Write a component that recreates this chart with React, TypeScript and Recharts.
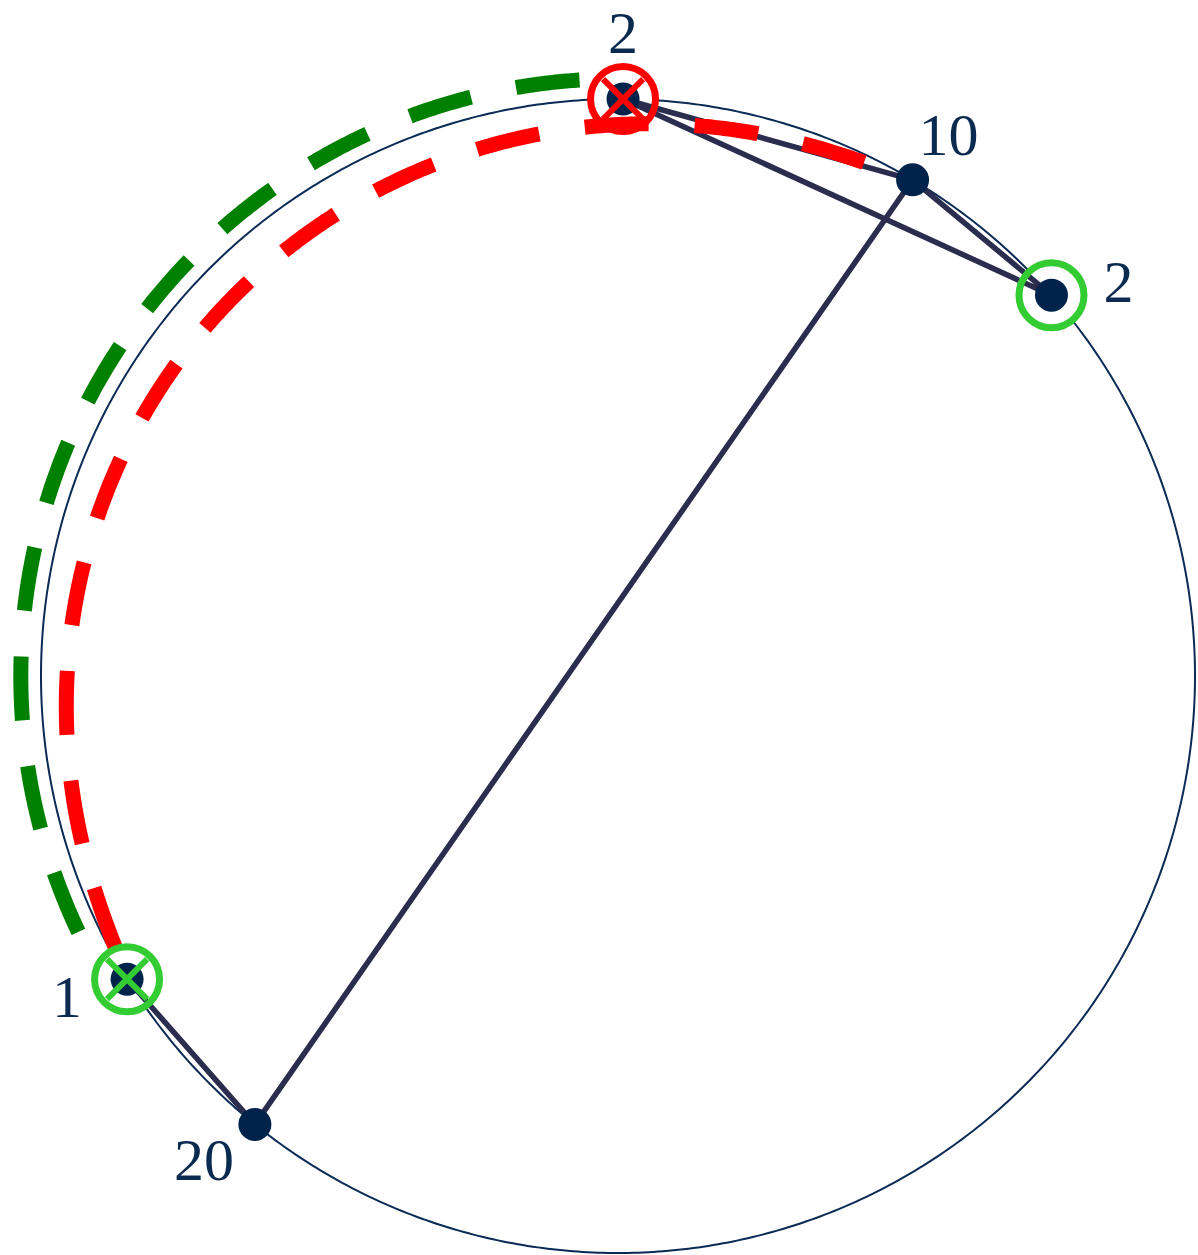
import { ScatterChart, Scatter, XAxis, YAxis } from 'recharts';

// node data: label and angle on the circle (degrees, counter-clockwise from 3 o'clock)
const NODE_LABELS = ['2', '10', '2', '1', '20'];
const NODE_ANGLES = [89.5, 59.3, 41.3, 211.7, 231.0];
// order the dark edges are walked
const EDGE_PATH = [3, 4, 1, 0, 2, 1];
const GREEN_RINGS = [2, 3];
const RED_RINGS = [0];
const GREEN_CROSSES = [3];
const RED_CROSSES = [0];
// dashed arcs: [from node, to node]
const GREEN_ARC = [3, 0];
const RED_ARC = [3, 1];

const W = 1198;
const H = 1255;
const CX = 618;
const CY = 676;
const R = 577;
const X_DOMAIN: [number, number] = [-CX / R, (W - CX) / R];
const Y_DOMAIN: [number, number] = [(CY - H) / R, CY / R];

const NAVY = '#00234b';
const EDGE = '#2b2d4f';
const LIME = '#33cc33';
const RED = '#ff0000';
const DARK_GREEN = '#008000';
const LABEL_OFFSETS = [[0, -66], [36, -45], [67, -13], [-60, 18], [-51, 36]];

const rad = (d: number) => (d * Math.PI) / 180;
const polar = (deg: number, r = 1) => ({ x: r * Math.cos(rad(deg)), y: r * Math.sin(rad(deg)) });

const nodes = NODE_ANGLES.map((a, i) => ({ ...polar(a), label: NODE_LABELS[i], i }));
const edgePts = EDGE_PATH.map((i) => nodes[i]);

const circlePts = Array.from({ length: 721 }, (_, k) => polar(k / 2));

function arcPts(from: number, to: number, radius: (t: number) => number) {
  const n = Math.ceil(Math.abs(to - from) * 4);
  return Array.from({ length: n + 1 }, (_, k) => {
    const t = k / n;
    return polar(from + (to - from) * t, radius(t));
  });
}

const greenPts = arcPts(NODE_ANGLES[GREEN_ARC[0]], NODE_ANGLES[GREEN_ARC[1]], () => 1.035);
const redPts = arcPts(NODE_ANGLES[RED_ARC[0]], NODE_ANGLES[RED_ARC[1]], (t) => 1 - 0.064 * Math.pow(Math.sin(Math.PI * t), 0.7));

const Blank = () => <g />;
const RingFill = (p: any) => <circle cx={p.cx} cy={p.cy} r={33} fill="#fff" />;
const ringStroke = (color: string) => (p: any) => (
  <circle cx={p.cx} cy={p.cy} r={32.5} fill="none" stroke={color} strokeWidth={7} />
);
const NodeDot = (p: any) => <circle cx={p.cx} cy={p.cy} r={16.5} fill={NAVY} />;
const cross = (color: string) => (p: any) => (
  <g stroke={color} strokeWidth={6}>
    <line x1={p.cx - 20} y1={p.cy - 20} x2={p.cx + 20} y2={p.cy + 20} />
    <line x1={p.cx - 20} y1={p.cy + 20} x2={p.cx + 20} y2={p.cy - 20} />
  </g>
);
const NodeLabel = (p: any) => {
  const [dx, dy] = LABEL_OFFSETS[p.payload.i];
  return (
    <text x={p.cx + dx} y={p.cy + dy + 20} textAnchor="middle" fontFamily="'Liberation Serif', 'Times New Roman', serif" fontSize={60} fill="#0b2a50">
      {p.payload.label}
    </text>
  );
};

export default function App() {
  return (
    <div style={{ position: 'absolute', left: 0, top: 0, width: W, height: H, background: '#fff' }}>
      <ScatterChart width={W} height={H} margin={{ top: 0, right: 0, bottom: 0, left: 0 }}>
        <XAxis type="number" dataKey="x" domain={X_DOMAIN} allowDataOverflow hide />
        <YAxis type="number" dataKey="y" domain={Y_DOMAIN} allowDataOverflow hide />
        <Scatter data={circlePts} shape={Blank} line={{ stroke: '#0b2b55', strokeWidth: 2 }} isAnimationActive={false} />
        <Scatter data={RED_RINGS.map((i) => nodes[i])} shape={RingFill} isAnimationActive={false} />
        <Scatter data={greenPts} shape={Blank} line={{ stroke: DARK_GREEN, strokeWidth: 15, strokeDasharray: '64 46', strokeDashoffset: 44 }} isAnimationActive={false} />
        <Scatter data={GREEN_RINGS.map((i) => nodes[i])} shape={RingFill} isAnimationActive={false} />
        <Scatter data={edgePts} shape={Blank} line={{ stroke: EDGE, strokeWidth: 5.5, strokeLinejoin: 'round' }} isAnimationActive={false} />
        <Scatter data={redPts} shape={Blank} line={{ stroke: RED, strokeWidth: 15, strokeDasharray: '64 46', strokeDashoffset: 77 }} isAnimationActive={false} />
        <Scatter data={GREEN_RINGS.map((i) => nodes[i])} shape={ringStroke(LIME)} isAnimationActive={false} />
        <Scatter data={RED_RINGS.map((i) => nodes[i])} shape={ringStroke(RED)} isAnimationActive={false} />
        <Scatter data={nodes} shape={NodeDot} isAnimationActive={false} />
        <Scatter data={GREEN_CROSSES.map((i) => nodes[i])} shape={cross(LIME)} isAnimationActive={false} />
        <Scatter data={RED_CROSSES.map((i) => nodes[i])} shape={cross(RED)} isAnimationActive={false} />
        <Scatter data={nodes} shape={NodeLabel} isAnimationActive={false} />
      </ScatterChart>
    </div>
  );
}
